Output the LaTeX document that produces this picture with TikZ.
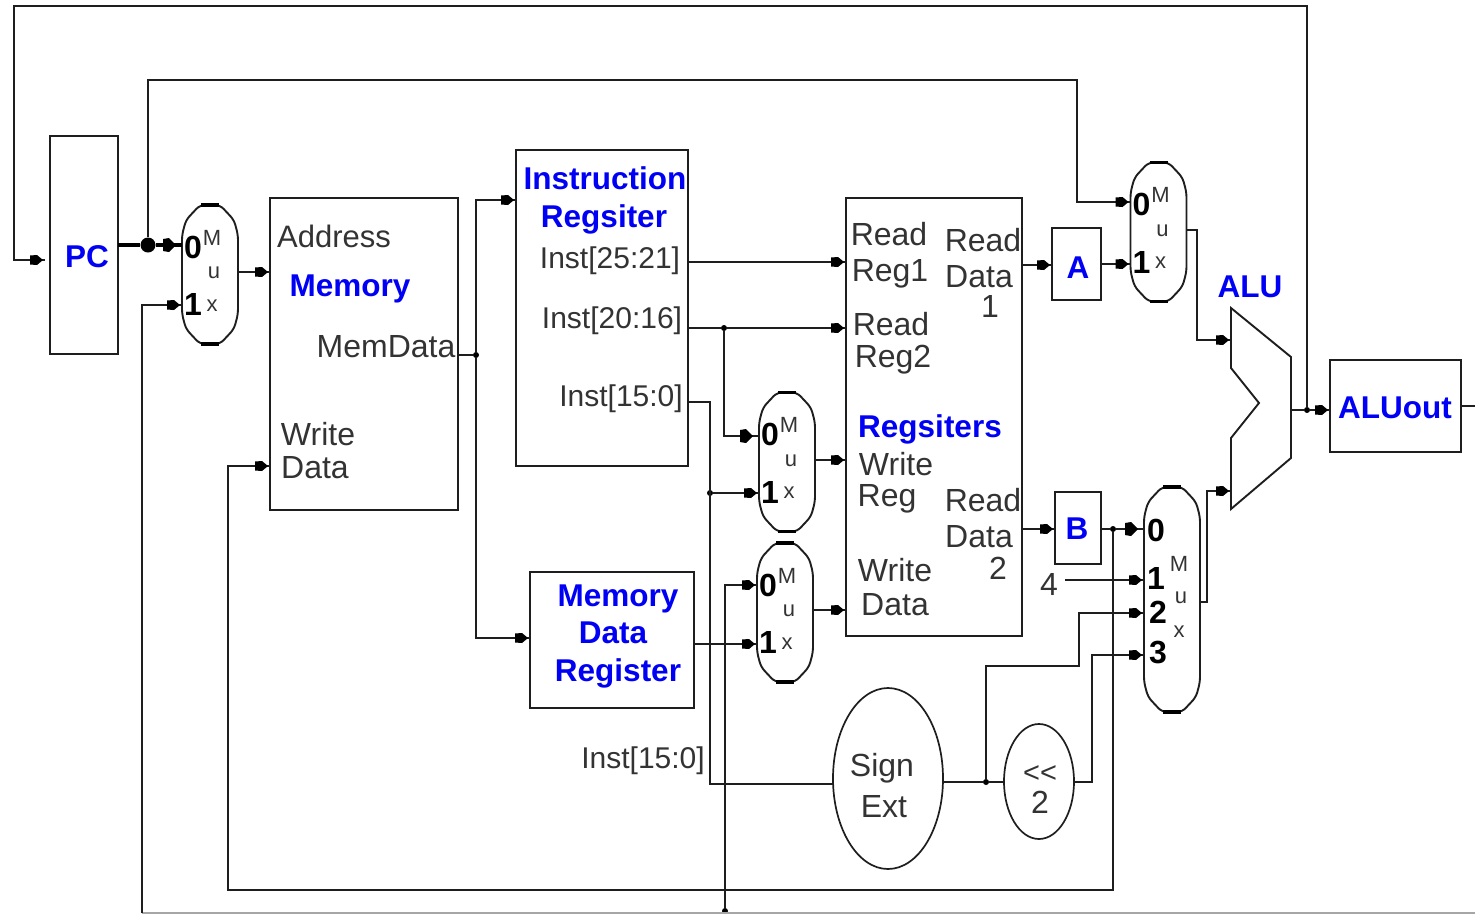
\documentclass[tikz,border=0pt]{standalone}
\usepackage{fontspec}
\setmainfont{Liberation Sans}
\usetikzlibrary{shapes.geometric,decorations.markings,calc}
\definecolor{ink}{HTML}{1E1E1E}
\definecolor{soft}{HTML}{333333}
\definecolor{lblue}{RGB}{0,0,245}
\tikzset{
 wire/.style={draw=ink,line width=1.9pt,line join=miter},
 thickwire/.style={draw=black,line width=3.4pt},
 arr/.style={postaction={decorate},decoration={markings,mark=at position -3pt with {\fill[black] (-12pt,-4.5pt)--(-5pt,-5pt)--(1pt,0pt)--(-5pt,5pt)--(-12pt,4.5pt)--cycle;}}},
 bigarr/.style={postaction={decorate},decoration={markings,mark=at position -8pt with {\fill[black] (-11pt,-6pt)--(-5pt,-7pt)--(2pt,0pt)--(-5pt,7pt)--(-11pt,6pt)--cycle;}}},
 blk/.style={rectangle,draw=ink,line width=1.9pt,inner sep=0pt,outer sep=0pt},
 muxbox/.style={rectangle,inner sep=0pt,outer sep=0pt,minimum width=56pt},
 oval/.style={ellipse,draw=ink,line width=1.7pt,inner sep=0pt,outer sep=0pt},
 jdot/.style={circle,fill=black,inner sep=0pt,minimum size=6pt},
 bigdot/.style={circle,fill=black,inner sep=0pt,minimum size=15pt},
 lbl/.style={inner sep=0pt,text height=22pt,text depth=0pt,text=soft,font=\fontsize{32}{32}\selectfont},
 lbli/.style={inner sep=0pt,text height=21.5pt,text depth=0pt,text=soft,font=\fontsize{30}{30}\selectfont},
 blu/.style={inner sep=0pt,text height=22.5pt,text depth=0pt,text=lblue,font=\fontsize{31.5}{32}\selectfont\bfseries},
 muxdig/.style={inner sep=0pt,text height=22pt,text depth=0pt,text=black,font=\fontsize{32}{32}\selectfont\bfseries},
 muxlet/.style={inner sep=0pt,text height=16pt,text depth=0pt,text=soft,font=\fontsize{22}{22}\selectfont},
 muxsm/.style={inner sep=0pt,text height=11.5pt,text depth=0pt,text=soft,font=\fontsize{22}{22}\selectfont},
}
\newcommand{\muxshape}[1]{%
 \draw[wire,line join=round,rounded corners=5pt] ([xshift=18pt]#1.north west) -- ([xshift=-18pt]#1.north east)
   -- ([xshift=-4pt,yshift=-15pt]#1.north east)
   -- ([yshift=-30pt]#1.north east)
   -- ([yshift=30pt]#1.south east)
   -- ([xshift=-4pt,yshift=15pt]#1.south east)
   -- ([xshift=-18pt]#1.south east)
   -- ([xshift=18pt]#1.south west)
   -- ([xshift=4pt,yshift=15pt]#1.south west)
   -- ([yshift=30pt]#1.south west)
   -- ([yshift=-30pt]#1.north west)
   -- ([xshift=4pt,yshift=-15pt]#1.north west) -- cycle;
 \draw[thickwire] ([xshift=19pt]#1.north west) -- ([xshift=-19pt]#1.north east);
 \draw[thickwire] ([xshift=19pt]#1.south west) -- ([xshift=-19pt]#1.south east);
}
\newcommand{\muxparts}[1]{%
 \node[muxdig] (#1zero) at ([shift={(-17pt,27.5pt)}]#1.center) {0};
 \node[muxdig] (#1one) at ([shift={(-17pt,-30pt)}]#1.center) {1};
 \node[muxlet] (#1M) at ([shift={(2pt,37.5pt)}]#1.center) {M};
 \node[muxsm] (#1u) at ([shift={(4pt,1.5pt)}]#1.center) {u};
 \node[muxsm] (#1x) at ([shift={(2pt,-31pt)}]#1.center) {x};
}
\begin{document}
\begin{tikzpicture}[x=1pt,y=-1pt]
\useasboundingbox (0,0) rectangle (1475,914);
% blocks
\node[blk,minimum width=68pt,minimum height=218pt] (pc) at (84,245) {};
\node[blk,minimum width=188pt,minimum height=312pt] (mem) at (364,354) {};
\node[blk,minimum width=172pt,minimum height=316pt] (ir) at (602,308) {};
\node[blk,minimum width=164pt,minimum height=136pt] (mdr) at (612,640) {};
\node[blk,minimum width=176pt,minimum height=438pt] (reg) at (934,417) {};
\node[blk,minimum width=49pt,minimum height=72pt] (a) at (1076.5,264) {};
\node[blk,minimum width=46pt,minimum height=72pt] (b) at (1078,528) {};
\node[blk,minimum width=131pt,minimum height=92pt] (aluout) at (1395.5,406) {};
\node[muxbox,minimum height=139pt] (ma) at (210,274.5) {};
\node[muxbox,minimum height=139pt] (mb) at (787,462) {};
\node[muxbox,minimum height=139pt] (mc) at (785,612.5) {};
\node[muxbox,minimum height=139pt] (md) at (1158.5,232) {};
\node[muxbox,minimum height=225pt] (me) at (1172,599.5) {};
\muxshape{ma}\muxshape{mb}\muxshape{mc}\muxshape{md}\muxshape{me}
\muxparts{ma}\muxparts{mb}\muxparts{mc}\muxparts{md}
\node[rectangle,inner sep=0pt,outer sep=0pt,minimum width=60pt,minimum height=201pt] (alu) at (1261,408.5) {};
\draw[wire] (alu.north west) -- (1291,357) -- (1291,458) -- (alu.south west) -- (1231,438) -- (1259,403) -- (1231,368) -- cycle;
\node[oval,minimum width=110pt,minimum height=181pt] (sx) at (888,778.5) {};
\node[oval,minimum width=70pt,minimum height=115pt] (sl) at (1039,781.5) {};
% junctions
\node[bigdot] (dpc) at (148,245) {};
\node[jdot] (dmem) at (476,355) {};
\node[jdot] (dinst) at (724,328) {};
\node[jdot] (dimm) at (710,493) {};
\node[jdot] (dbot) at (725,911) {};
\node[jdot] (db) at (1113,529) {};
\node[jdot] (dsx) at (986,782) {};
\node[jdot] (dalu) at (1307,410) {};
\coordinate (bl) at (142,913);
\coordinate (br) at (1475,913);
\coordinate (rt) at (1475,406);
\coordinate (pcin) at (45,260);
\coordinate (four) at (1065,580);
% wires
\draw[draw=gray!70,line width=1.4pt] (bl) -- (br);
\draw[wire,arr] (dalu) -- (1307,6) -- (14,6) -- (14,260) -- (pcin);
\draw[thickwire] (pc.east |- 0,245) -- (dpc);
\draw[thickwire,bigarr] (dpc) -- (ma.west |- 0,245);
\draw[wire,arr] (dpc) -- (148,80) -- (1077,80) -- (1077,202) -- (md.west |- 0,202);
\draw[wire,arr] (ma.east |- 0,272) -- (mem.west |- 0,272);
\draw[wire,arr] (bl) -- (142,305) -- (ma.west |- 0,305);
\draw[wire,arr] (db) -- (1113,890) -- (228,890) -- (228,466) -- (mem.west |- 0,466);
\draw[wire] (mem.east |- dmem) -- (dmem);
\draw[wire,arr] (dmem) -- (476,200) -- (ir.west |- 0,200);
\draw[wire,arr] (dmem) -- (476,638) -- (mdr.west |- 0,638);
\draw[wire,arr] (ir.east |- 0,262) -- (reg.west |- 0,262);
\draw[wire] (ir.east |- dinst) -- (dinst);
\draw[wire,arr] (dinst) -- (reg.west |- dinst);
\draw[wire,bigarr] (dinst) -- (724,436) -- (mb.west |- 0,436);
\draw[wire] (ir.east |- 0,402) -- (710,402) -- (710,784) -- (sx.west |- 0,784);
\draw[wire,arr] (dimm) -- (mb.west |- dimm);
\draw[wire,arr] (mdr.east |- 0,644) -- (mc.west |- 0,644);
\draw[wire,arr] (dbot) -- (725,585) -- (mc.west |- 0,585);
\draw[wire,arr] (mb.east |- 0,460) -- (reg.west |- 0,460);
\draw[wire,arr] (mc.east |- 0,610) -- (reg.west |- 0,610);
\draw[wire,arr] (reg.east |- 0,265) -- (a.west |- 0,265);
\draw[wire,arr] (a.east |- 0,264) -- (md.west |- 0,264);
\draw[wire,arr] (md.east |- 0,230) -- (1197,230) -- (1197,340) -- (alu.west |- 0,340);
\draw[wire,arr] (reg.east |- 0,529) -- (b.west |- 0,529);
\draw[wire] (b.east |- db) -- (db);
\draw[wire,bigarr] (db) -- (me.west |- db);
\draw[wire,arr] (me.east |- 0,602) -- (1207,602) -- (1207,491) -- (alu.west |- 0,491);
\draw[wire] (1291,410) -- (dalu);
\draw[wire,arr] (dalu) -- (aluout.west |- dalu);
\draw[wire] (aluout.east |- rt) -- (rt);
\draw[wire] (sx.east |- dsx) -- (dsx);
\draw[wire] (dsx) -- (sl.west |- dsx);
\draw[wire,arr] (dsx) -- (986,666) -- (1079,666) -- (1079,613) -- (me.west |- 0,613);
\draw[wire,arr] (sl.east |- 0,782) -- (1092,782) -- (1092,655) -- (me.west |- 0,655);
\draw[wire,arr] (four) -- (me.west |- 0,580);
% texts
\node[blu] (tpc) at (87,256) {PC};
\node[blu] (tmem) at (350,285) {Memory};
\node[blu] (tir1) at (605,178) {Instruction};
\node[blu] (tir2) at (604,216) {Regsiter};
\node[blu] (tdr1) at (618,595) {Memory};
\node[blu] (tdr2) at (613,632) {Data};
\node[blu] (tdr3) at (618,670) {Register};
\node[blu] (treg) at (930,426) {Regsiters};
\node[blu] (ta) at (1078,267) {A};
\node[blu] (tb) at (1077,528) {B};
\node[blu] (talu) at (1250,286) {ALU};
\node[blu] (tao) at (1395,407) {ALUout};
\node[lbli,font=\fontsize{31}{31}\selectfont] (t1) at (334,237) {Address};
\node[lbl] (t2) at (386,346) {MemData};
\node[lbl] (t3) at (318,434) {Write};
\node[lbl] (t4) at (315,467) {Data};
\node[lbli] (t5) at (610,258) {Inst[25:21]};
\node[lbli] (t6) at (612,318) {Inst[20:16]};
\node[lbli] (t7) at (621,396) {Inst[15:0]};
\node[lbli] (t8) at (643,758) {Inst[15:0]};
\node[lbl] (t9) at (889,234) {Read};
\node[lbl] (t10) at (890,270) {Reg1};
\node[lbl] (t11) at (891,324) {Read};
\node[lbl] (t12) at (893,356) {Reg2};
\node[lbl] (t13) at (983,240) {Read};
\node[lbl] (t14) at (979,276) {Data};
\node[lbl] (t15) at (990,306) {1};
\node[lbl] (t16) at (896,464) {Write};
\node[lbl] (t17) at (887,495) {Reg};
\node[lbl] (t18) at (983,500) {Read};
\node[lbl] (t19) at (979,536) {Data};
\node[lbl] (t20) at (998,568) {2};
\node[lbl] (t21) at (895,570) {Write};
\node[lbl] (t22) at (895,604) {Data};
\node[lbl] (t23) at (1049,584) {4};
\node[lbl] (t24) at (882,765) {Sign};
\node[lbl] (t25) at (884,806) {Ext};
\node[lbl,text height=14pt,font=\fontsize{29}{29}\selectfont] (t26) at (1040,775) {<{}<};
\node[lbl] (t27) at (1040,802) {2};
% mux E labels
\node[muxdig] (e0) at (1156,530) {0};
\node[muxdig] (e1) at (1156,578) {1};
\node[muxdig] (e2) at (1158,612) {2};
\node[muxdig] (e3) at (1158,652) {3};
\node[muxlet] (eM) at (1179,563) {M};
\node[muxsm] (eu) at (1181,598) {u};
\node[muxsm] (ex) at (1179,632) {x};
\end{tikzpicture}
\end{document}
